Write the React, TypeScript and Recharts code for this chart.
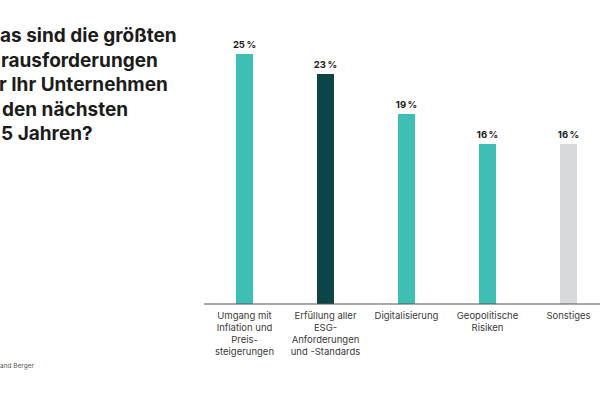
import React from "react";
import { BarChart, Bar, XAxis, YAxis, Cell, LabelList } from "recharts";

const categories = [
  ["Umgang mit", "Inflation und", "Preis-", "steigerungen"],
  ["Erfüllung aller", "ESG-", "Anforderungen", "und -Standards"],
  ["Digitalisierung"],
  ["Geopolitische", "Risiken"],
  ["Sonstiges"],
];
const values = [25, 23, 19, 16, 16];
const barColors = ["#3fbfb3", "#0c4548", "#3fbfb3", "#3fbfb3", "#d8d9da"];
// title as visible in the (left-cropped) reference
const titleLines = [
  "as sind die größten",
  "rausforderungen",
  "r Ihr Unternehmen",
  "den nächsten",
  "5 Jahren?",
];
const titleIndent = [0, 1, -1, 2, 1];

const data = values.map((v, i) => ({ name: String(i), value: v }));

const font = "Inter, 'Noto Sans', sans-serif";

function CategoryTick(props: any) {
  const { x, y, payload } = props;
  const lines = categories[Number(payload.value)] || [];
  return (
    <g transform={`translate(${x},${y})`}>
      {lines.map((l, i) => (
        <text
          key={i}
          x={0}
          y={7 + i * 12}
          textAnchor="middle"
          fontSize={9.5}
          fill="#3a3a3a"
          fontFamily={font}
        >
          {l}
        </text>
      ))}
    </g>
  );
}

export default function App() {
  return (
    <div
      style={{
        position: "fixed",
        left: 0,
        top: 0,
        width: 600,
        height: 399,
        overflow: "hidden",
        background: "#fff",
        fontFamily: font,
      }}
    >
      <div
        style={{
          position: "absolute",
          left: 0,
          top: 24,
          fontSize: 19,
          fontWeight: 700,
          lineHeight: "24.5px",
          color: "#1c1c1c",
          whiteSpace: "nowrap",
        }}
      >
        {titleLines.map((t, i) => (
          <div key={i} style={{ marginLeft: titleIndent[i] }}>
            {t}
          </div>
        ))}
      </div>
      <div
        style={{
          position: "absolute",
          left: 0,
          top: 362,
          fontSize: 6.5,
          color: "#555",
          whiteSpace: "nowrap",
        }}
      >
        and Berger
      </div>
      <div style={{ position: "absolute", left: 0, top: 0 }}>
        <BarChart
          width={620}
          height={399}
          data={data}
          margin={{ top: 54, right: 11, bottom: 35, left: 204 }}
        >
          <XAxis
            dataKey="name"
            height={60}
            tickLine={false}
            axisLine={{ stroke: "#555", strokeWidth: 1 }}
            tick={<CategoryTick />}
            interval={0}
          />
          <YAxis hide domain={[0, 25]} />
          <Bar dataKey="value" barSize={17} isAnimationActive={false}>
            {data.map((d, i) => (
              <Cell key={i} fill={barColors[i]} />
            ))}
            <LabelList
              dataKey="value"
              position="top"
              offset={6}
              formatter={(v: any) => `${v}\u2009%`}
              style={{ fontSize: 9.5, fontWeight: 700, fill: "#1c1c1c", fontFamily: font }}
            />
          </Bar>
        </BarChart>
      </div>
    </div>
  );
}
